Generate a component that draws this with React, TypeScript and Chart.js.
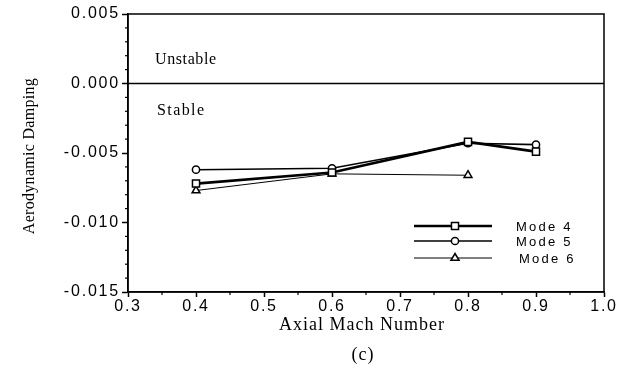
import React, { useEffect, useRef } from 'react';
import { Chart, registerables } from 'chart.js';

Chart.register(...registerables);

const machNumbers = [0.4, 0.6, 0.8, 0.9];
const mode4 = [-0.0072, -0.0064, -0.0042, -0.0049];
const mode5 = [-0.0062, -0.0061, -0.0043, -0.0044];
const mode6 = [-0.0077, -0.0065, -0.0066, null];
const seriesLabels = ['Mode 4', 'Mode 5', 'Mode 6'];
const seriesStyles = ['rect', 'circle', 'triangle'];
const yTitle = 'Aerodynamic Damping';
const xTitle = 'Axial Mach Number';
const caption = '(c)';
const regionLabels = ['Unstable', 'Stable'];

const SERIF = '"Liberation Serif", "Times New Roman", serif';
const SANS = '"Liberation Sans", Arial, sans-serif';

function drawMarker(ctx: CanvasRenderingContext2D, style: string, x: number, y: number, r: number) {
  ctx.beginPath();
  if (style === 'rect') {
    const s = Math.SQRT1_2 * r;
    ctx.rect(x - s, y - s, 2 * s, 2 * s);
  } else if (style === 'circle') {
    ctx.arc(x, y, r, 0, Math.PI * 2);
  } else {
    ctx.moveTo(x, y - r);
    ctx.lineTo(x + r * 0.9, y + r * 0.5);
    ctx.lineTo(x - r * 0.9, y + r * 0.5);
    ctx.closePath();
  }
  ctx.fillStyle = '#fff';
  ctx.fill();
  ctx.stroke();
}

const decorPlugin = {
  id: 'decor',
  beforeDraw(chart: any) {
    chart.ctx.letterSpacing = '1.8px';
  },
  afterDraw(chart: any) {
    const ctx: CanvasRenderingContext2D = chart.ctx;
    const { left, right, top, bottom } = chart.chartArea;
    const xs = chart.scales.x;
    const ys = chart.scales.y;
    ctx.save();
    ctx.strokeStyle = '#000';
    ctx.lineWidth = 1.5;
    ctx.strokeRect(left, top, right - left, bottom - top);
    const y0 = ys.getPixelForValue(0);
    ctx.beginPath();
    ctx.moveTo(left, y0);
    ctx.lineTo(right, y0);
    ctx.stroke();
    ctx.lineWidth = 1.2;
    for (let i = -15; i <= 5; i++) {
      if (i % 5 === 0) continue;
      const py = ys.getPixelForValue(i / 1000);
      ctx.beginPath();
      ctx.moveTo(left - 3, py);
      ctx.lineTo(left, py);
      ctx.stroke();
    }
    for (let i = 6; i <= 20; i++) {
      if (i % 2 === 0) continue;
      const px = xs.getPixelForValue(i / 20);
      ctx.beginPath();
      ctx.moveTo(px, bottom);
      ctx.lineTo(px, bottom + 3);
      ctx.stroke();
    }
    ctx.fillStyle = '#000';
    ctx.textBaseline = 'alphabetic';
    ctx.textAlign = 'left';
    ctx.font = `16px ${SERIF}`;
    (ctx as any).letterSpacing = '0.6px';
    ctx.fillText(regionLabels[0], left + 27, 64);
    (ctx as any).letterSpacing = '1.4px';
    ctx.fillText(regionLabels[1], left + 29, 115);

    ctx.font = `18px ${SERIF}`;
    (ctx as any).letterSpacing = '1px';
    ctx.textAlign = 'center';
    ctx.textBaseline = 'middle';
    ctx.fillText(xTitle, (left + right) / 2 - 4, 325);
    ctx.fillText(caption, (left + right) / 2 - 3, 355);
    ctx.font = `16px ${SERIF}`;
    (ctx as any).letterSpacing = '0.3px';
    ctx.save();
    ctx.translate(30, 156);
    ctx.rotate(-Math.PI / 2);
    ctx.fillText(yTitle, 0, 0);
    ctx.restore();

    const rows = [226, 241, 258];
    chart.data.datasets.forEach((ds: any, i: number) => {
      const ry = rows[i];
      ctx.strokeStyle = '#000';
      ctx.lineWidth = ds.borderWidth;
      ctx.beginPath();
      ctx.moveTo(414, ry);
      ctx.lineTo(492, ry);
      ctx.stroke();
      ctx.lineWidth = 1.5;
      drawMarker(ctx, seriesStyles[i], 455, ry, ds.pointRadius);
      ctx.fillStyle = '#000';
      ctx.font = `13px ${SANS}`;
      (ctx as any).letterSpacing = '2.2px';
      ctx.textAlign = 'left';
      ctx.textBaseline = 'middle';
      ctx.fillText(ds.label, i === 2 ? 519 : 516, ry + 1);
    });
    ctx.restore();
  },
};

export default function App() {
  const ref = useRef<HTMLCanvasElement>(null);
  useEffect(() => {
    if (!ref.current) return;
    const mk = (vals: (number | null)[]) => machNumbers.map((x, i) => ({ x, y: vals[i] }));
    const widths = [2.6, 1.6, 1];
    const radii = [5, 3.6, 4.5];
    const all = [mode4, mode5, mode6];
    const chart = new Chart(ref.current, {
      type: 'line',
      data: {
        datasets: all.map((vals, i) => ({
          label: seriesLabels[i],
          data: mk(vals) as any,
          borderColor: '#000',
          borderWidth: widths[i],
          pointStyle: seriesStyles[i] as any,
          pointRadius: radii[i],
          pointBackgroundColor: '#fff',
          pointBorderColor: '#000',
          pointBorderWidth: 1.5,
          tension: 0,
          spanGaps: false,
        })),
      },
      options: {
        animation: false,
        responsive: false,
        events: [],
        layout: { padding: { left: 0, right: 29, top: 14, bottom: 0 } },
        plugins: { legend: { display: false }, tooltip: { enabled: false }, title: { display: false } },
        scales: {
          x: {
            type: 'linear',
            min: 0.3,
            max: 1.0,
            ticks: {
              stepSize: 0.1,
              color: '#000',
              padding: 0,
              font: { family: SANS, size: 16 },
              maxRotation: 0,
              callback: (v: any) => Number(v).toFixed(1),
            },
            grid: { drawOnChartArea: false, tickLength: 5, tickColor: '#000', tickWidth: 1.5 },
            border: { display: true, color: '#000', width: 1.5 },
            afterFit: (s: any) => { s.height = 96; },
          },
          y: {
            type: 'linear',
            min: -0.015,
            max: 0.005,
            ticks: {
              stepSize: 0.005,
              color: '#000',
              padding: 2,
              font: { family: SANS, size: 16 },
              callback: (v: any) => Number(v).toFixed(3),
            },
            grid: { drawOnChartArea: false, tickLength: 6, tickColor: '#000', tickWidth: 1.5 },
            border: { display: true, color: '#000', width: 1.5 },
            afterFit: (s: any) => { s.width = 128; },
          },
        },
      },
      plugins: [decorPlugin],
    });
    return () => chart.destroy();
  }, []);
  return (
    <div style={{ position: 'absolute', left: 0, top: 0, width: 633, height: 388, background: '#fff' }}>
      <canvas ref={ref} width={633} height={388} style={{ display: 'block' }} />
    </div>
  );
}
